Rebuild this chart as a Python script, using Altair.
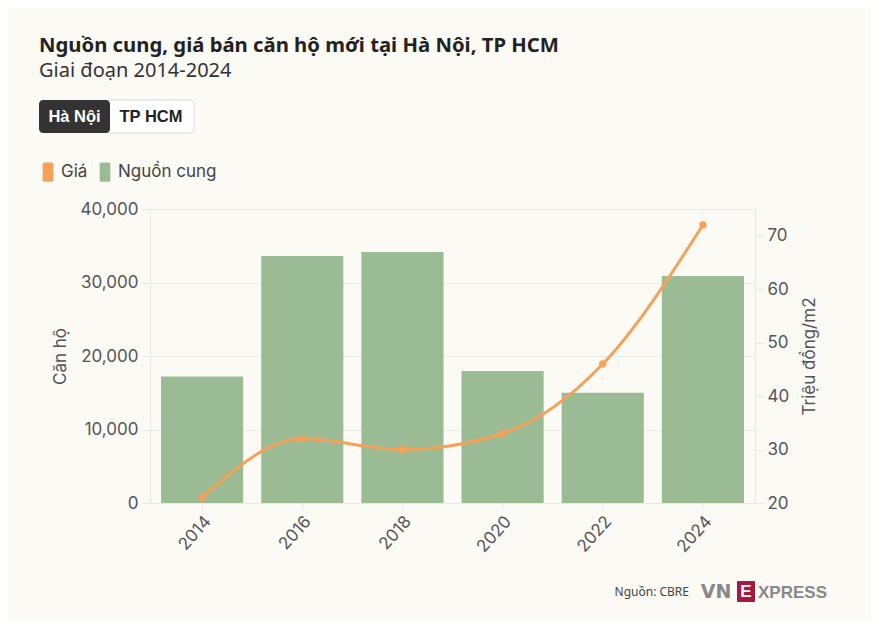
import altair as alt
import pandas as pd

years = ["2014", "2016", "2018", "2020", "2022", "2024"]
supply = [17200, 33600, 34150, 17950, 15000, 30900]
price = [21, 32, 30, 33, 46, 72]

BG = "#fcfaf5"
GREEN = "#9bbb94"
ORANGE = "#f4a25a"
FONT = "Inter"
TFONT = "Noto Sans"

df = pd.DataFrame({"year": years, "supply": supply, "price": price})
one = pd.DataFrame({"a": [0]})

x = alt.X("year:O", title=None, sort=years,
          scale=alt.Scale(paddingInner=0.18, paddingOuter=0.11),
          axis=alt.Axis(labelAngle=-48, labelFontSize=17, labelColor="#555",
                        labelFont=FONT, tickColor="#e2e2e2", tickSize=6,
                        labelAlign="right", labelBaseline="top",
                        domain=False, labelPadding=4))

bars = alt.Chart(df).transform_calculate(series="'Nguồn cung'").mark_bar(color=GREEN).encode(
    x=x,
    y=alt.Y("supply:Q", title="Căn hộ",
            scale=alt.Scale(domain=[0, 40000]),
            axis=alt.Axis(orient="left", values=[0, 10000, 20000, 30000, 40000], format=",.0f",
                          labelFontSize=17, labelColor="#555", labelFont=FONT,
                          titleFontSize=17, titleColor="#555", titleFont=FONT, titleFontWeight="normal",
                          titlePadding=11, gridColor="#e9e9e6", tickColor="#e6e6e2",
                          domainColor="#e6e6e2", tickSize=8, labelPadding=4)),
    color=alt.Color("series:N",
                    scale=alt.Scale(domain=["Giá", "Nguồn cung"], range=[ORANGE, GREEN]),
                    legend=alt.Legend(title=None, orient="none", direction="horizontal",
                                      legendX=-112, legendY=-47,
                                      symbolType="M-0.55,-0.8Q-0.55,-1 -0.38,-1L0.38,-1Q0.55,-1 0.55,-0.8L0.55,0.8Q0.55,1 0.38,1L-0.38,1Q-0.55,1 -0.55,0.8Z",
                                      symbolSize=380, symbolStrokeWidth=0,
                                      labelFontSize=17, labelColor="#444", labelFont=FONT,
                                      columnPadding=7, labelOffset=3)),
)

line = alt.Chart(df).mark_line(color=ORANGE, strokeWidth=3, interpolate="monotone",
                               point=alt.OverlayMarkDef(color=ORANGE, size=55, filled=True, opacity=1)).encode(
    x=x,
    y=alt.Y("price:Q", title="Triệu đồng/m2",
            scale=alt.Scale(domain=[20, 75]),
            axis=alt.Axis(orient="right", values=[20, 30, 40, 50, 60, 70], grid=False,
                          labelFontSize=17, labelColor="#555", labelFont=FONT,
                          titleFontSize=17, titleColor="#555", titleFont=FONT, titleFontWeight="normal",
                          titleAngle=270, titlePadding=30, tickColor="#e6e6e2", domainColor="#e6e6e2",
                          tickSize=8, labelPadding=4)),
)

def txt(s, xv, yv, size, color="#222", weight="normal", align="left", font=TFONT, baseline="alphabetic"):
    return alt.Chart(one).mark_text(text=s, fontSize=size, color=color, fontWeight=weight,
                                    align=align, font=font, baseline=baseline).encode(
        x=alt.value(xv), y=alt.value(yv))

def box(x1, x2, y1, y2, fill, stroke=None, r=4):
    kw = dict(fill=fill, cornerRadius=r)
    if stroke:
        kw.update(stroke=stroke, strokeWidth=1)
    return alt.Chart(one).mark_rect(**kw).encode(
        x=alt.value(x1), x2=alt.value(x2), y=alt.value(y1), y2=alt.value(y2))

title = txt("Nguồn cung, giá bán căn hộ mới tại Hà Nội, TP HCM", -111, -157, 20.3, "#222", "bold")
subtitle = txt("Giai đoạn 2014-2024", -111, -132, 20, "#333")
b2 = box(-44, 44, -109, -76, "#ffffff", "#d8d8d8")
b1 = box(-111, -40, -109, -76, "#333333")
t1 = txt("Hà Nội", -75.5, -92, 16.5, "#ffffff", "bold", "center", "Liberation Sans", "middle")
t2 = txt("TP HCM", 1, -92, 16.5, "#222", "bold", "center", "Liberation Sans", "middle")
src = txt("Nguồn: CBRE", 539, 387, 12, "#444", align="right", font="Noto Sans")
vn = txt("VN", 566, 389, 19, "#888", "bold", "center", "DejaVu Sans")
ebox = box(587, 605, 372, 393, "#a3193f", r=1)
e = txt("E", 596, 383, 17, "#ffffff", "bold", "center", "Liberation Sans", "middle")
xp = txt("XPRESS", 608, 389, 17, "#888", "bold", font="Liberation Sans")

chart = alt.layer(bars, line, title, subtitle, b2, b1, t1, t2, src, vn, ebox, e, xp).resolve_scale(
    y="independent").properties(
    width=605, height=294,
    background=BG,
    padding={"left": 142, "top": 201, "right": 116, "bottom": 119},
    autosize=alt.AutoSizeParams(type="none"),
).configure_view(stroke=None)

chart.save("out.html", embed_options={"renderer": "svg", "actions": False})
